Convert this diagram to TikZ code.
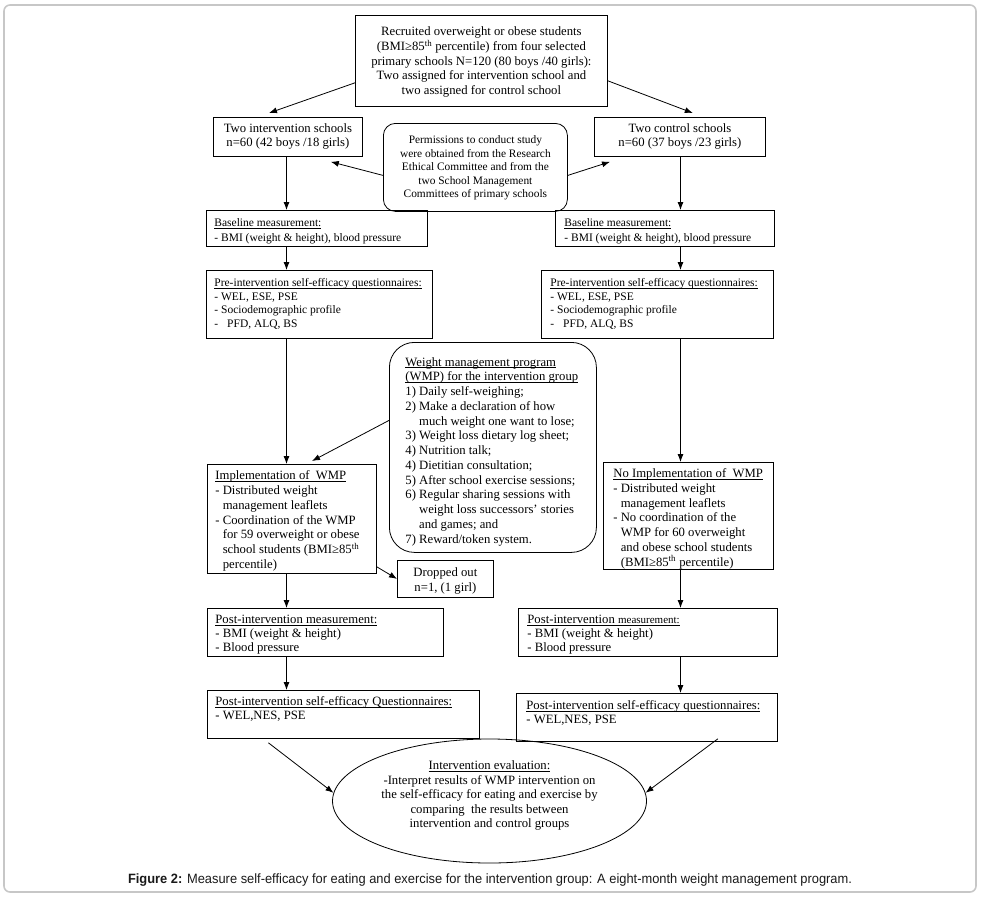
\documentclass[tikz,border=0pt]{standalone}
\usepackage{fontspec}
\usepackage{graphicx}
\setmainfont{Liberation Serif}
\newfontfamily\capfont{Liberation Sans}
\usetikzlibrary{arrows.meta,shapes.geometric}

\newcommand{\fA}{\fontsize{12.7pt}{14.6pt}\selectfont}
\newcommand{\fB}{\fontsize{11.5pt}{13.5pt}\selectfont}
% width, height, top pad, left pad, content
\newcommand{\TBox}[5]{\parbox[c][#2pt][t]{#1pt}{\vspace*{#3pt}\hspace*{#4pt}#5}}
\newcommand{\Ind}{\hphantom{-~}}
\newcommand{\myul}[1]{\setbox0\hbox{#1}\rlap{\rule[-1.8pt]{\wd0}{0.6pt}}\box0}

\tikzset{
  box/.style={draw, line width=0.8pt, inner sep=0pt, anchor=north west},
  rbox/.style={box, rounded corners=#1},
  arr/.style={-{Latex[length=8pt,width=6pt]}, line width=0.8pt},
}

\begin{document}
\begin{tikzpicture}[x=1pt,y=-1pt]
\useasboundingbox (0,0) rectangle (981,902);
\draw[draw=black!22, line width=1.6pt, rounded corners=6pt] (4,5) rectangle (976,892);

\coordinate (cl) at (286.5,0);
\coordinate (cr) at (680.5,0);

% top
\node[box] (top) at (355,15) {\TBox{252}{91}{10}{0}{\centering\fA\begin{tabular}[t]{@{}c@{}}
Recruited overweight or obese students\\
(BMI≥85\textsuperscript{th} percentile) from four selected\\
primary schools N=120 (80 boys /40 girls):\\
Two assigned for intervention school and\\
two assigned for control school\end{tabular}}};

\node[box] (intv) at (213,117) {\TBox{149}{39}{4.5}{0}{\centering\fA\begin{tabular}[t]{@{}c@{}}
Two intervention schools\\ n=60 (42 boys /18 girls)\end{tabular}}};

\node[box] (ctrl) at (594,117) {\TBox{171}{39}{4.5}{0}{\centering\fA\begin{tabular}[t]{@{}c@{}}
Two control schools\\ n=60 (37 boys /23 girls)\end{tabular}}};

\node[rbox=12pt] (perm) at (383,123) {\TBox{184}{88}{11}{0}{\centering\fontsize{11.4pt}{13.5pt}\selectfont\begin{tabular}[t]{@{}c@{}}
Permissions to conduct study\\ were obtained from the Research\\ Ethical Committee and from the\\ two School Management\\ Committees of primary schools\end{tabular}}};

% baseline
\node[box] (baseL) at (206,210) {\TBox{221}{36}{6}{8}{\fontsize{11.5pt}{15pt}\selectfont\begin{tabular}[t]{@{}l@{}}
\myul{Baseline measurement:}\\ - BMI (weight \& height), blood pressure\end{tabular}}};
\node[box] (baseR) at (555,210) {\TBox{219}{36}{6}{9}{\fontsize{11.5pt}{15pt}\selectfont\begin{tabular}[t]{@{}l@{}}
\myul{Baseline measurement:}\\ - BMI (weight \& height), blood pressure\end{tabular}}};

% pre
\node[box] (preL) at (206,270) {\TBox{226}{68}{7}{8}{\fB\begin{tabular}[t]{@{}l@{}}
\myul{Pre-intervention self-efficacy questionnaires:}\\ - WEL, ESE, PSE\\ - Sociodemographic profile\\ -\hspace{9pt}PFD, ALQ, BS\end{tabular}}};
\node[box] (preR) at (541,270) {\TBox{232}{68}{7}{9}{\fB\begin{tabular}[t]{@{}l@{}}
\myul{Pre-intervention self-efficacy questionnaires:}\\ - WEL, ESE, PSE\\ - Sociodemographic profile\\ -\hspace{9pt}PFD, ALQ, BS\end{tabular}}};

% WMP
\node[rbox=25pt] (wmp) at (389,342) {\TBox{207}{210}{13.5}{16}{\fontsize{12.7pt}{14.75pt}\selectfont\begin{tabular}[t]{@{}l@{}}
\myul{Weight management program}\\
\myul{(WMP) for the intervention group}\\
1) Daily self-weighing;\\
2) Make a declaration of how\\
\hphantom{2)~}much weight one want to lose;\\
3) Weight loss dietary log sheet;\\
4) Nutrition talk;\\
4) Dietitian consultation;\\
5) After school exercise sessions;\\
6) Regular sharing sessions with\\
\hphantom{6)~}weight loss successors’ stories\\
\hphantom{6)~}and games; and\\
7) Reward/token system.\end{tabular}}};

% implementation
\node[box] (implL) at (207,464) {\TBox{169}{109}{4.5}{8}{\fontsize{12.7pt}{14.9pt}\selectfont\begin{tabular}[t]{@{}l@{}}
\myul{Implementation of\ \ WMP}\\ - Distributed weight\\ \Ind management leaflets\\ - Coordination of the WMP\\ \Ind for 59 overweight or obese\\ \Ind school students (BMI≥85\textsuperscript{th}\\ \Ind percentile)\end{tabular}}};
\node[box] (implR) at (603,462) {\TBox{170}{107}{5}{10}{\fontsize{12.7pt}{14.7pt}\selectfont\begin{tabular}[t]{@{}l@{}}
\myul{No Implementation of\ \ WMP}\\ - Distributed weight\\ \Ind management leaflets\\ - No coordination of the\\ \Ind WMP for 60 overweight\\ \Ind and obese school students\\ \Ind (BMI≥85\textsuperscript{th} percentile)\end{tabular}}};

\node[box] (drop) at (397,560) {\TBox{96}{37}{6}{0}{\centering\fontsize{12.7pt}{15pt}\selectfont\begin{tabular}[t]{@{}c@{}}
Dropped out\\ n=1, (1 girl)\end{tabular}}};

% post measurement
\node[box] (postL) at (207,608) {\TBox{236}{48}{5.5}{8}{\fontsize{12.7pt}{14pt}\selectfont\begin{tabular}[t]{@{}l@{}}
\myul{Post-intervention measurement:}\\ - BMI (weight \& height)\\ - Blood pressure\end{tabular}}};
\node[box] (postR) at (518,608) {\TBox{259}{48}{5.5}{9}{\fontsize{12.7pt}{14pt}\selectfont\begin{tabular}[t]{@{}l@{}}
\myul{Post-intervention {\fontsize{11pt}{13pt}\selectfont measurement:}}\\ - BMI (weight \& height)\\ - Blood pressure\end{tabular}}};

% post questionnaires
\node[box] (qL) at (207,690) {\TBox{272}{48}{5.5}{8}{\fontsize{12.7pt}{14pt}\selectfont\begin{tabular}[t]{@{}l@{}}
\myul{Post-intervention self-efficacy Questionnaires:}\\ - WEL,NES, PSE\end{tabular}}};
\node[box] (qR) at (516,693) {\TBox{261}{48}{6.5}{10}{\fontsize{12.7pt}{14pt}\selectfont\begin{tabular}[t]{@{}l@{}}
\myul{Post-intervention self-efficacy questionnaires:}\\ - WEL,NES, PSE\end{tabular}}};

% evaluation
\node[draw, ellipse, line width=0.8pt, minimum width=314pt, minimum height=124pt, inner sep=0pt] (eval) at (489.5,801)
  {\raisebox{2pt}[0pt][0pt]{\makebox[0pt]{\fontsize{12.7pt}{14.5pt}\selectfont\begin{tabular}{@{}c@{}}
\myul{Intervention evaluation:}\\ -Interpret results of WMP intervention on\\ the self-efficacy for eating and exercise by\\ comparing\ \ the results between\\ intervention and control groups\end{tabular}}}};

% caption
\node[anchor=base, inner sep=0pt, text=black!90] (cap) at (490,883) {\resizebox{724pt}{\height}{\capfont\fontsize{13.5pt}{16pt}\selectfont\textbf{Figure 2:} Measure self-efficacy for eating and exercise for the intervention group: A eight-month weight management program.}};

% connectors
\draw[arr] ([yshift=24pt]top.south west) -- ([xshift=56pt,yshift=4pt]intv.north west);
\draw[arr] ([yshift=26pt]top.south east) -- ([xshift=-73pt,yshift=4pt]ctrl.north east);
\draw[arr] ([yshift=-8pt]perm.west) -- ([xshift=-32pt,yshift=-5pt]intv.south east);
\draw[arr] ([yshift=-8pt]perm.east) -- ([xshift=16pt,yshift=-5pt]ctrl.south west);

\draw[arr] (intv.south -| cl) -- (baseL.north -| cl);
\draw[arr] (ctrl.south -| cr) -- (baseR.north -| cr);
\draw[arr] (baseL.south -| cl) -- (preL.north -| cl);
\draw[arr] (baseR.south -| cr) -- (preR.north -| cr);
\draw[arr] (preL.south -| cl) -- (implL.north -| cl);
\draw[arr] (preR.south -| cr) -- (implR.north -| cr);
\draw[arr] ([yshift=27pt]wmp.west) -- ([xshift=105pt,yshift=3pt]implL.north west);
\draw[arr] ([yshift=7pt]implL.south east) -- (drop.west);
\draw[arr] (implL.south -| cl) -- (postL.north -| cl);
\draw[arr] (implR.south -| cr) -- (postR.north -| cr);
\draw[arr] (postL.south -| cl) -- (qL.north -| cl);
\draw[arr] (postR.south -| cr) -- (qR.north -| cr);
\draw[arr] ([xshift=-75pt,yshift=-4pt]qL.south) -- (eval.177);
\draw[arr] ([xshift=71pt,yshift=3pt]qR.south) -- (eval.3);
\end{tikzpicture}
\end{document}
